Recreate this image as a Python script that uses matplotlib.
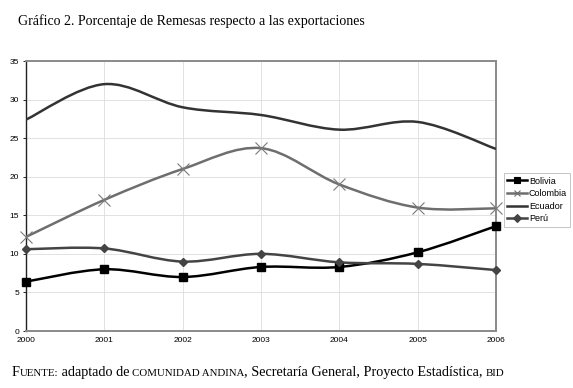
import matplotlib.pyplot as plt
import numpy as np
from matplotlib.path import Path
from matplotlib.patches import PathPatch
from matplotlib.lines import Line2D

years = [2000, 2001, 2002, 2003, 2004, 2005, 2006]
bolivia = [6.4, 8.0, 7.0, 8.3, 8.3, 10.2, 13.6]
colombia = [12.2, 17.0, 21.0, 23.7, 19.0, 16.0, 15.9]
ecuador = [27.4, 32.0, 29.0, 28.0, 26.1, 27.1, 23.6]
peru = [10.6, 10.7, 9.0, 10.0, 8.9, 8.7, 7.9]

series = [
    ('Bolivia', bolivia, '#000000', 's', 6),
    ('Colombia', colombia, '#6e6e6e', 'x', 9),
    ('Ecuador', ecuador, '#333333', None, 0),
    ('Perú', peru, '#444444', 'D', 4.5),
]


def smooth_path(xs, ys):
    # Excel-style smoothed line: cubic bezier through each point
    pts = np.column_stack([xs, ys]).astype(float)
    n = len(pts)
    verts = [pts[0]]
    codes = [Path.MOVETO]
    for i in range(n - 1):
        p0 = pts[i - 1] if i > 0 else pts[i]
        p1 = pts[i]
        p2 = pts[i + 1]
        p3 = pts[i + 2] if i + 2 < n else pts[i + 1]
        c1 = p1 + (p2 - p0) / 6
        c2 = p2 - (p3 - p1) / 6
        verts += [c1, c2, p2]
        codes += [Path.CURVE4] * 3
    return Path(verts, codes)


fig = plt.figure(figsize=(5.73, 3.88), dpi=100)
ax = fig.add_axes([26 / 573, 57 / 388, 470 / 573, 270 / 388])

for name, vals, color, marker, ms in series:
    ax.add_patch(PathPatch(smooth_path(years, vals), facecolor='none',
                           edgecolor=color, lw=1.8, zorder=3))
    if marker:
        ax.plot(years, vals, ls='none', marker=marker, ms=ms, color=color,
                mec='#7a7a7a' if marker == 'x' else color,
                mew=0.8 if marker == 'x' else 1, zorder=4, clip_on=False)

ax.set_xlim(2000, 2006)
ax.set_ylim(0, 35)
ax.set_xticks(years)
ax.set_yticks(range(0, 36, 5))
ax.grid(True, color='#dddddd', lw=0.6)
ax.set_axisbelow(True)
for s in ['top', 'right', 'bottom']:
    ax.spines[s].set_color('#8a8a8a')
    ax.spines[s].set_linewidth(1.4)
ax.spines['left'].set_color('#222222')
ax.spines['left'].set_linewidth(1.0)
ax.tick_params(axis='both', labelsize=6, length=2, width=0.6,
               labelfontfamily='Liberation Sans')
ax.tick_params(axis='y', pad=3)
ax.tick_params(axis='x', pad=4, length=0)

handles = []
for name, vals, color, marker, ms in series:
    handles.append(Line2D([], [], color=color, lw=1.8, marker=marker,
                          ms=min(ms, 5), mew=0.8, label=name))
leg = ax.legend(handles=handles, loc='center left', bbox_to_anchor=(1.017, 0.485),
                prop={'family': 'Liberation Sans', 'size': 6.5}, frameon=True,
                fancybox=False, edgecolor='#aaaaaa', handlelength=2.2,
                handletextpad=0.2, borderpad=0.35, labelspacing=0.4,
                borderaxespad=0)
leg.get_frame().set_linewidth(0.6)

fig.text(0.031, 0.935, 'Gráfico 2. Porcentaje de Remesas respecto a las exportaciones',
         family='Liberation Serif', fontsize=10, va='baseline')

# footer with small caps pieces placed one after another
pieces = [('F', 10.3), ('UENTE:', 7.8), (' adaptado de ', 10.3),
          ('COMUNIDAD ANDINA', 7.8), (', Secretaría General, Proyecto Estadística, ', 10.3),
          ('BID', 7.8)]
texts = [fig.text(0, 0.03, txt, family='Liberation Serif', fontsize=sz, va='baseline')
         for txt, sz in pieces]
fig.canvas.draw()
r = fig.canvas.get_renderer()
x = 0.021
for t in texts:
    t.set_position((x, 0.03))
    x += (t.get_window_extent(r).width - 0.5) / fig.bbox.width

fig.savefig('out.png', dpi=100)
